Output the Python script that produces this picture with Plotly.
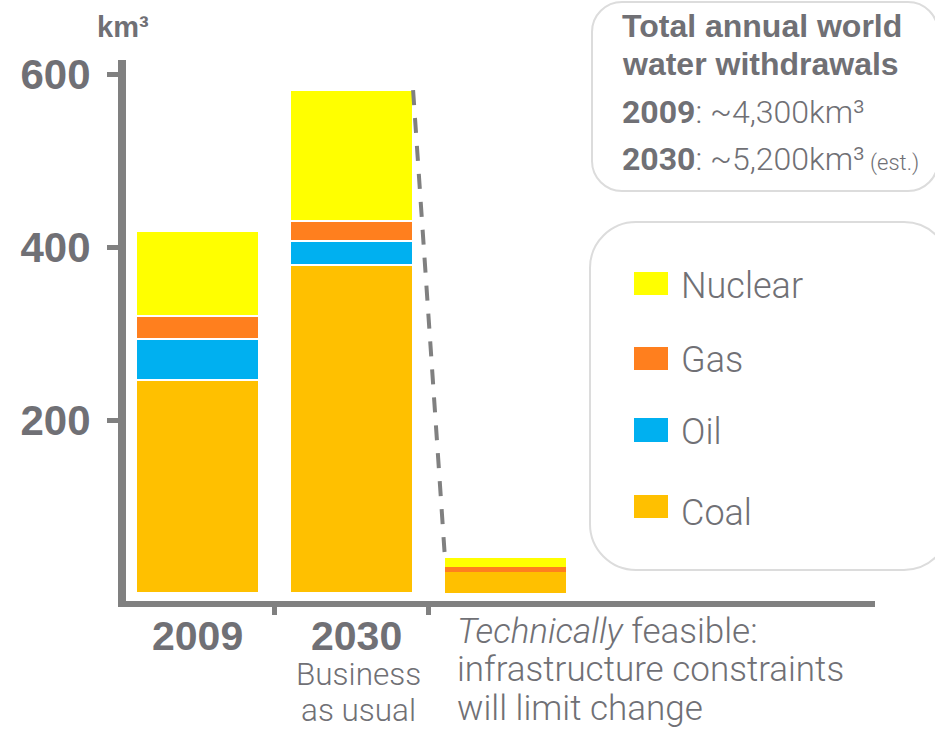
import plotly.graph_objects as go

# Stacked water withdrawal by fuel (km³) for each scenario
categories = [0, 1, 2]          # 2009 | 2030 business as usual | technically feasible
coal    = [247, 380, 24]
oil     = [47, 27, 0]
gas     = [26, 24, 6]
nuclear = [99, 151, 10]

series_names  = ["Coal", "Oil", "Gas", "Nuclear"]
series_values = [coal, oil, gas, nuclear]
series_colors = ["#FFC000", "#00B0F0", "#FF7F1E", "#FFFF00"]

y_ticks = [200, 400, 600]
bar_widths = [0.80, 0.80, 0.786]
gap_widths = [2.5, 2.5, 0]

TEXT = "#707075"
AXIS = "#808080"
BOLD = "Liberation Sans"
LIGHT = "Roboto"

W, H = 935, 732
L, R, T, B = 126, 60, 60, 131
PW, PH = W - L - R, H - T - B


def px(x):
    return (x - L) / PW


def py(y):
    return (H - B - y) / PH


fig = go.Figure()

for name, vals, col in zip(series_names, series_values, series_colors):
    fig.add_trace(go.Bar(
        x=categories, y=vals, name=name, width=bar_widths,
        marker=dict(color=col, line=dict(color="white", width=gap_widths)),
        showlegend=False, hoverinfo="skip",
    ))

# dashed connector from the 2030 total down to the feasible total
totals = [sum(v) for v in zip(*series_values)]
fig.add_trace(go.Scatter(
    x=[categories[1] + bar_widths[1] / 2, categories[2] - bar_widths[2] / 2],
    y=[totals[1], totals[2]],
    mode="lines", line=dict(color=AXIS, width=4, dash="15px,13px"),
    showlegend=False, hoverinfo="skip",
))


def rounded_rect(x0, y0, x1, y1, r):
    k = 0.5523 * r
    pts = [
        ("M", [(x0 + r, y0)]),
        ("L", [(x1 - r, y0)]),
        ("C", [(x1 - r + k, y0), (x1, y0 + r - k), (x1, y0 + r)]),
        ("L", [(x1, y1 - r)]),
        ("C", [(x1, y1 - r + k), (x1 - r + k, y1), (x1 - r, y1)]),
        ("L", [(x0 + r, y1)]),
        ("C", [(x0 + r - k, y1), (x0, y1 - r + k), (x0, y1 - r)]),
        ("L", [(x0, y0 + r)]),
        ("C", [(x0, y0 + r - k), (x0 + r - k, y0), (x0 + r, y0)]),
    ]
    s = ""
    for cmd, p in pts:
        s += cmd + " " + " ".join(f"{px(a):.5f},{py(b):.5f}" for a, b in p) + " "
    return s + "Z"


shapes = [
    dict(type="path", xref="paper", yref="paper", path=rounded_rect(592, 2, 938, 191, 30),
         line=dict(color="#DCDCDC", width=2), fillcolor="rgba(0,0,0,0)", layer="below"),
    dict(type="path", xref="paper", yref="paper", path=rounded_rect(590, 222, 950, 570, 46),
         line=dict(color="#DCDCDC", width=2), fillcolor="rgba(0,0,0,0)", layer="below"),
]

# legend swatches
legend_rows = [("Nuclear", "#FFFF00", 272, 295, 286),
               ("Gas", "#FF7F1E", 347, 370, 360),
               ("Oil", "#00B0F0", 418, 442, 432),
               ("Coal", "#FFC000", 495, 518, 513)]
annotations = []
for name, col, y0, y1, ty in legend_rows:
    shapes.append(dict(type="rect", xref="paper", yref="paper",
                       x0=px(634), x1=px(668), y0=py(y1), y1=py(y0),
                       fillcolor=col, line=dict(width=0)))
    annotations.append(dict(text=name, xref="paper", yref="paper", x=px(679), y=py(ty),
                            xanchor="left", yanchor="middle", showarrow=False,
                            font=dict(family=LIGHT, size=36, color=TEXT, weight=300)))


def note(text, x, y, size, family, weight, xanchor="left", xref="paper"):
    annotations.append(dict(text=text, xref=xref, yref="paper",
                            x=x if xref != "paper" else px(x), y=py(y),
                            xanchor=xanchor, yanchor="middle", showarrow=False,
                            font=dict(family=family, size=size, color=TEXT, weight=weight)))


note("km³", 123, 27, 29, BOLD, "bold", xanchor="center")

# category labels
note("2009", categories[0], 636, 41, BOLD, "bold", xanchor="center", xref="x")
note("2030", categories[1] + 0.03, 636, 41, BOLD, "bold", xanchor="center", xref="x")
note("Business", 358, 674, 31.5, LIGHT, 300, xanchor="center")
note("as usual", 358, 710, 31.5, LIGHT, 300, xanchor="center")
note("<i>Technically</i> feasible:", 455, 631, 35, LIGHT, 300)
note("infrastructure constraints", 455, 669.5, 35, LIGHT, 300)
note("will limit change", 455, 708, 35, LIGHT, 300)

# totals box
note("Total annual world", 620, 26, 32, BOLD, "bold")
note("water withdrawals", 620, 64, 32, BOLD, "bold")
note("<b>2009</b>: ~4,300km³", 620, 112, 32, LIGHT, 300)
note("<b>2030</b>: ~5,200km³<span style='font-size:22px'> (est.)</span>", 620, 159, 32, LIGHT, 300)

fig.update_layout(
    width=W, height=H, autosize=False,
    margin=dict(l=L, r=R, t=T, b=B, pad=0),
    paper_bgcolor="white", plot_bgcolor="white",
    barmode="stack", bargap=0,
    shapes=shapes, annotations=annotations,
    xaxis=dict(range=[-0.464, 4.399], showgrid=False, zeroline=False,
               showline=True, linewidth=6, linecolor=AXIS,
               tickvals=[0.5, 1.5], ticktext=["", ""], ticks="outside",
               ticklen=8, tickwidth=5, tickcolor=AXIS, fixedrange=True),
    yaxis=dict(range=[-9.3, 616.8], showgrid=False, zeroline=False,
               showline=True, linewidth=8, linecolor=AXIS,
               tickvals=y_ticks, ticks="outside", ticklen=11, tickwidth=5, tickcolor=AXIS,
               tickfont=dict(family=BOLD, size=42, color=TEXT, weight="bold"),
               ticklabelstandoff=8, fixedrange=True),
)

fig.write_html("out.html")
